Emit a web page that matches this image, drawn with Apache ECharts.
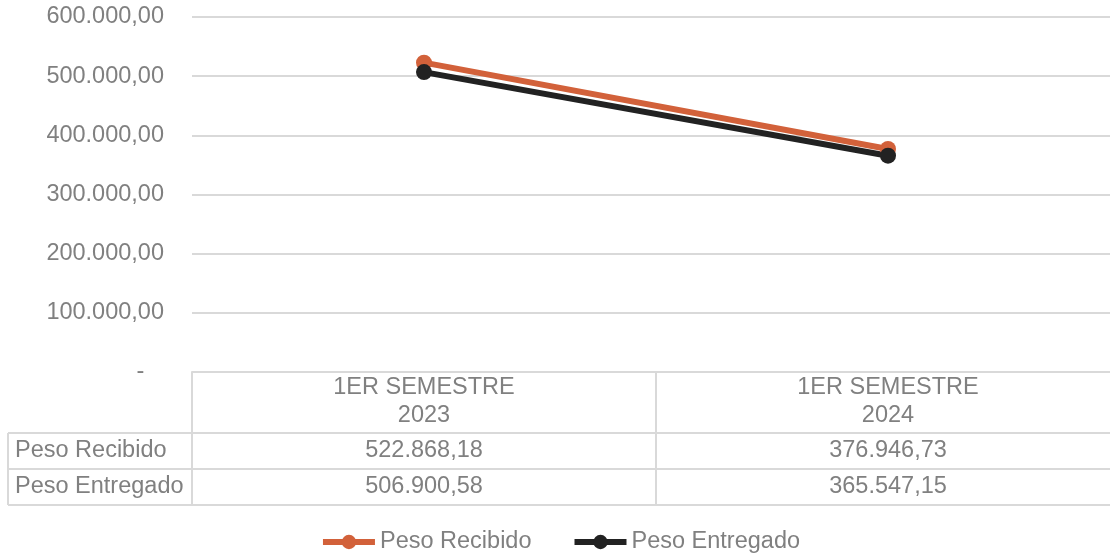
<!DOCTYPE html>
<html>
<head>
<meta charset="utf-8">
<script src="https://cdn.jsdelivr.net/npm/echarts@6/dist/echarts.min.js"></script>
<style>
  html, body { margin: 0; padding: 0; background: #fff; overflow: hidden; }
  #main { width: 1120px; height: 553px; }
</style>
</head>
<body>
<div id="main"></div>
<script>
// datos
const categories = ["1ER SEMESTRE\n2023", "1ER SEMESTRE\n2024"];
const seriesNames = ["Peso Recibido", "Peso Entregado"];
const pesoRecibido = [522868.18, 376946.73];
const pesoEntregado = [506900.58, 365547.15];
const seriesColors = ["#d2613a", "#222222"];

const textColor = "#808080";
const borderColor = "#d9d9d9";
const fontFamily = "Liberation Sans, Arial, sans-serif";
const fontSize = 23.5;

// formato es: 522.868,18
function fmt(v) {
  if (v === 0) return "-   ";
  let parts = v.toFixed(2).split(".");
  let int = parts[0].replace(/\B(?=(\d{3})+(?!\d))/g, ".");
  return int + "," + parts[1];
}

const chart = echarts.init(document.getElementById("main"));

const option = {
  animation: false,
  grid: {
    left: 192,
    right: 0,
    top: 17,
    bottom: 181,
    containLabel: false
  },
  legend: {
    bottom: -6,
    left: "center",
    itemWidth: 52,
    itemHeight: 18,
    itemGap: 40,
    lineStyle: { width: 6 },
    textStyle: { color: textColor, fontSize: fontSize, fontFamily: fontFamily },
    data: seriesNames
  },
  xAxis: {
    type: "category",
    data: categories,
    boundaryGap: true,
    axisTick: { show: false },
    axisLine: { lineStyle: { color: borderColor, width: 2 } },
    axisLabel: {
      color: textColor,
      fontSize: fontSize,
      fontFamily: fontFamily,
      lineHeight: 28,
      margin: 2
    },
    splitLine: { show: false }
  },
  yAxis: {
    type: "value",
    min: 0,
    max: 600000,
    interval: 100000,
    axisLine: { show: false },
    axisTick: { show: false },
    axisLabel: {
      color: textColor,
      fontSize: fontSize,
      fontFamily: fontFamily,
      margin: 28,
      formatter: fmt
    },
    splitLine: { lineStyle: { color: borderColor, width: 2 } }
  },
  series: [
    {
      name: seriesNames[0],
      type: "line",
      data: pesoRecibido,
      color: seriesColors[0],
      lineStyle: { width: 6 },
      symbol: "circle",
      symbolSize: 16
    },
    {
      name: seriesNames[1],
      type: "line",
      data: pesoEntregado,
      color: seriesColors[1],
      lineStyle: { width: 6 },
      symbol: "circle",
      symbolSize: 16
    }
  ]
};

chart.setOption(option);

// tabla de datos bajo el eje
function buildTable() {
  const axisY = chart.convertToPixel({ yAxisIndex: 0 }, 0);
  const left = 192;
  const tableLeft = 8;
  const right = 1120;
  const rowH = 36;
  const headerBottom = 433;
  const rows = [pesoRecibido, pesoEntregado];
  const centers = categories.map((c, i) => chart.convertToPixel({ xAxisIndex: 0 }, i));
  const step = centers[1] - centers[0];
  const elements = [];
  const line = (x1, y1, x2, y2) => ({
    type: "line",
    shape: { x1: x1, y1: y1, x2: x2, y2: y2 },
    style: { stroke: borderColor, lineWidth: 2 },
    silent: true
  });

  // verticales
  elements.push(line(left, axisY, left, headerBottom + rowH * rows.length));
  for (let i = 1; i < centers.length; i++) {
    let x = centers[i] - step / 2;
    elements.push(line(x, axisY, x, headerBottom + rowH * rows.length));
  }
  elements.push(line(tableLeft, headerBottom, tableLeft, headerBottom + rowH * rows.length));

  // horizontales
  for (let r = 0; r <= rows.length; r++) {
    let y = headerBottom + rowH * r;
    elements.push(line(tableLeft, y, right, y));
  }

  // textos
  rows.forEach((vals, r) => {
    let cy = headerBottom + rowH * r + rowH / 2;
    elements.push({
      type: "text",
      x: tableLeft + 7,
      y: cy,
      style: {
        text: seriesNames[r],
        fill: textColor,
        font: fontSize + "px " + fontFamily,
        textAlign: "left",
        textVerticalAlign: "middle"
      }
    });
    vals.forEach((v, i) => {
      elements.push({
        type: "text",
        x: centers[i],
        y: cy,
        style: {
          text: fmt(v),
          fill: textColor,
          font: fontSize + "px " + fontFamily,
          textAlign: "center",
          textVerticalAlign: "middle"
        }
      });
    });
  });

  chart.setOption({ graphic: { elements: elements } });
}

buildTable();
</script>
</body>
</html>
